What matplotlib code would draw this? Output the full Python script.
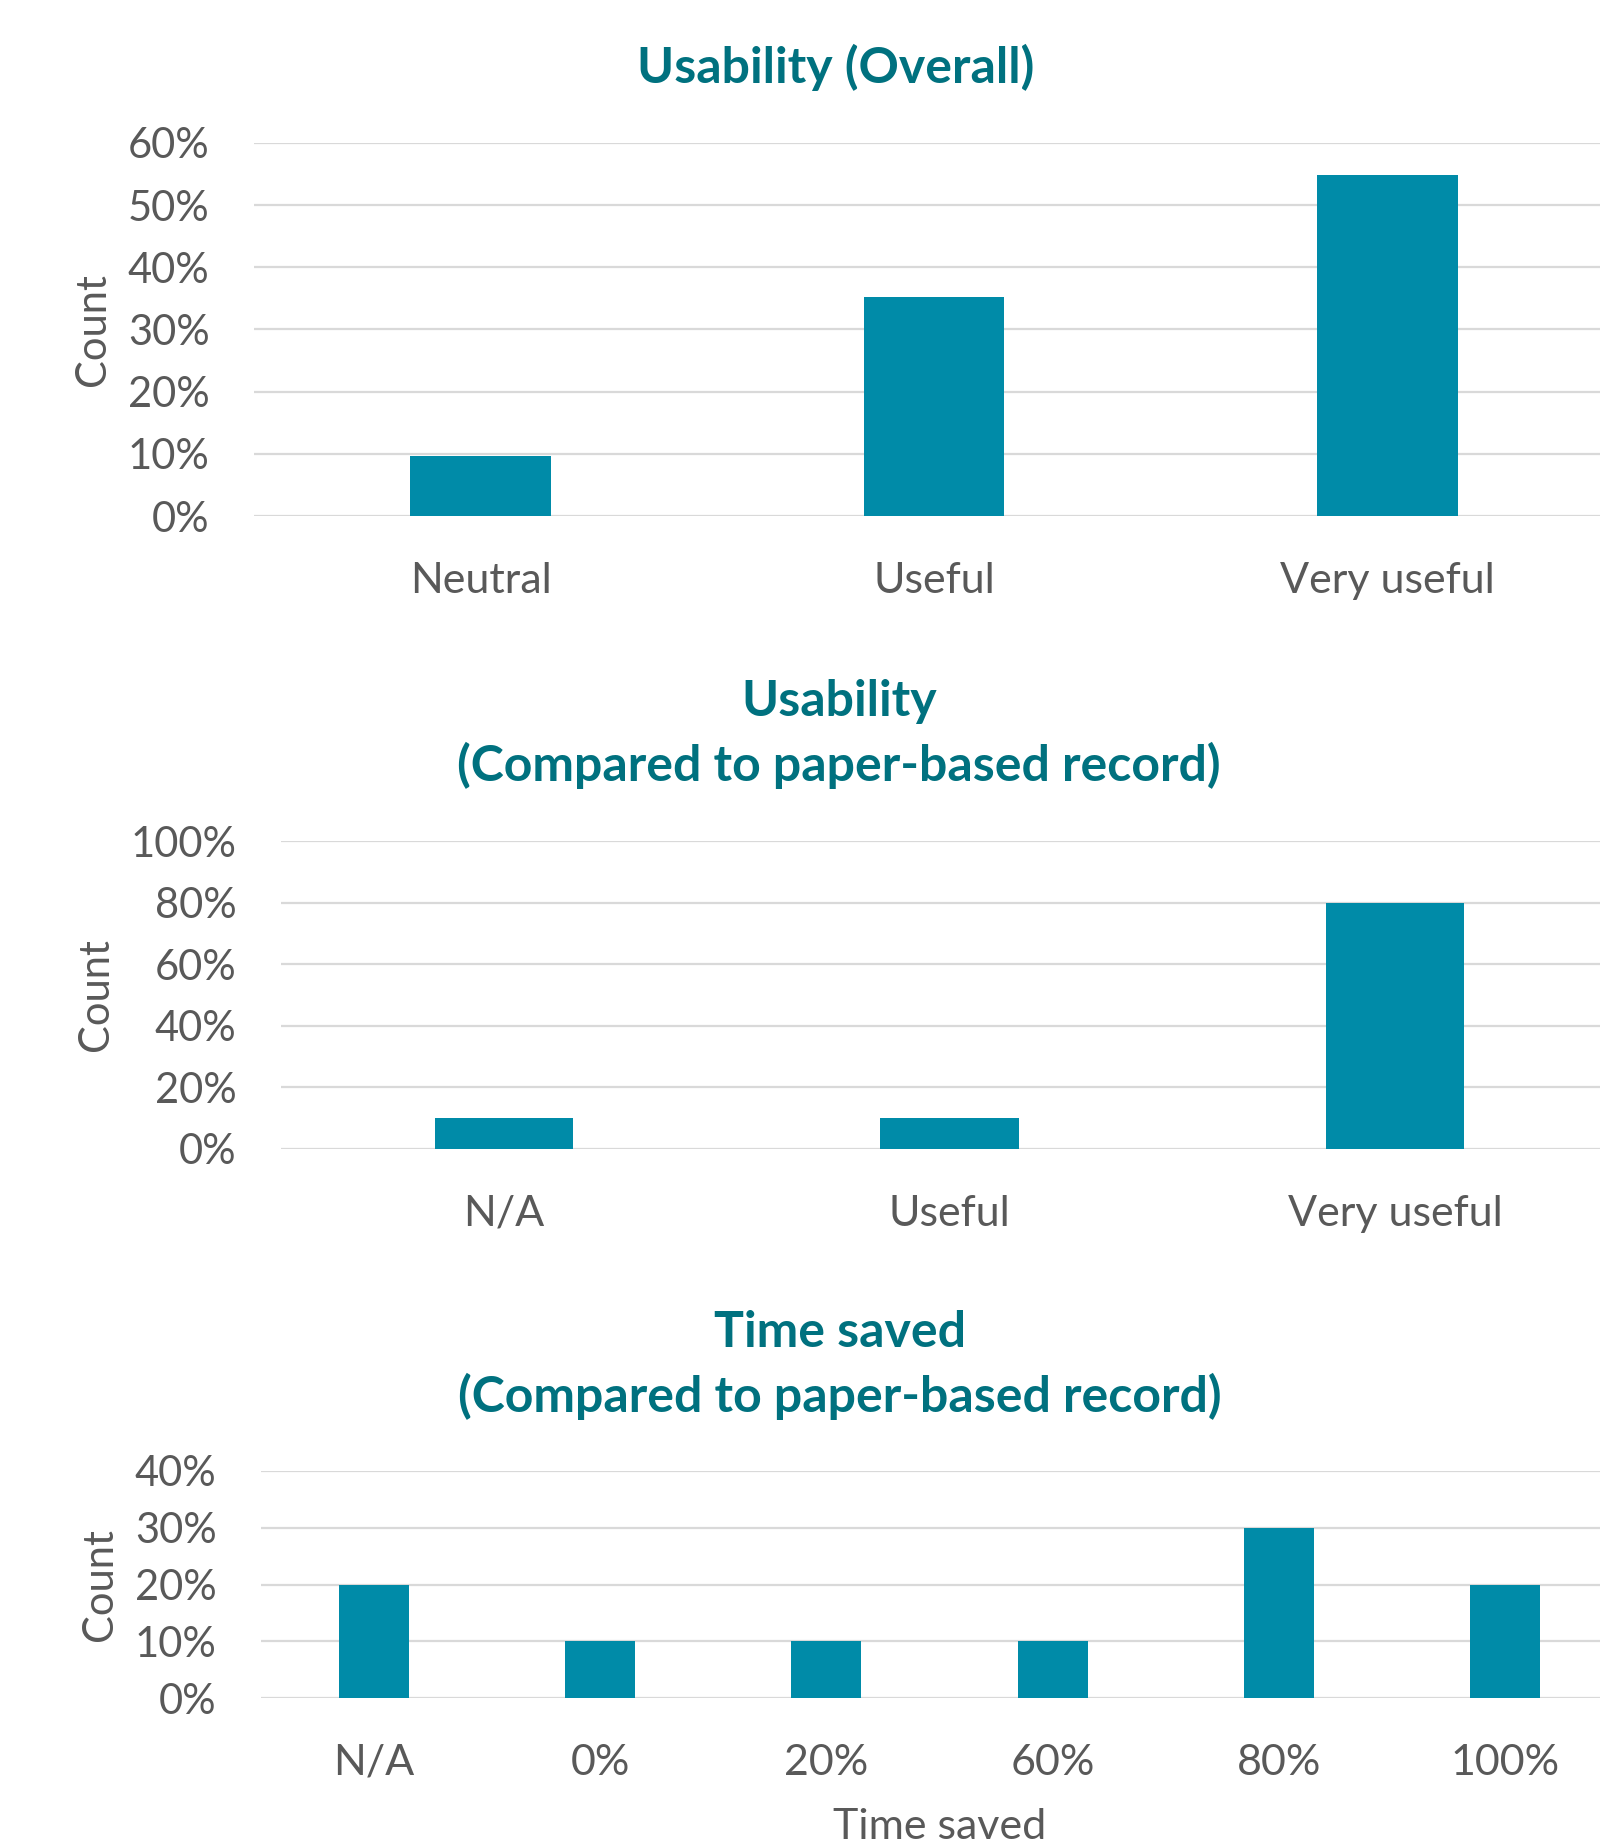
import matplotlib.pyplot as plt
from matplotlib.ticker import PercentFormatter

# survey results, share of respondents (%)
cats_overall = ['Neutral', 'Useful', 'Very useful']
vals_overall = [9.6, 35.3, 54.8]

cats_paper = ['N/A', 'Useful', 'Very useful']
vals_paper = [10, 10, 80]

cats_time = ['N/A', '0%', '20%', '60%', '80%', '100%']
vals_time = [20, 10, 10, 10, 30, 20]

bar_col = '#008BA8'
title_col = '#00717F'
txt_col = '#595959'
grid_col = '#D9D9D9'

plt.rcParams['font.family'] = ['Lato', 'DejaVu Sans']

W, H = 1600, 1843
fig = plt.figure(figsize=(W / 100, H / 100), dpi=100)


def panel(left, right, top, bottom, cats, vals, ymax, step, ylab_x):
    ax = fig.add_axes([left / W, 1 - bottom / H, (right - left) / W, (bottom - top) / H])
    x = range(len(cats))
    ax.bar(x, vals, width=0.31, color=bar_col, zorder=3)
    ax.set_xlim(-0.5, len(cats) - 0.5)
    ax.set_ylim(0, ymax)
    ax.set_yticks(range(0, ymax + 1, step))
    ax.yaxis.set_major_formatter(PercentFormatter(decimals=0))
    ax.set_xticks(list(x))
    ax.set_xticklabels(cats)
    ax.tick_params(length=0, labelsize=30, colors=txt_col)
    ax.tick_params(axis='x', labelsize=31, pad=33)
    ax.tick_params(axis='y', pad=32)
    for s in ax.spines.values():
        s.set_visible(False)
    ax.yaxis.grid(True, color=grid_col, lw=1.6, zorder=0)
    ax.set_ylabel('Count', fontsize=30, color=txt_col)
    ax.yaxis.set_label_coords((ylab_x - left) / (right - left), 0.5)
    return ax


panel(254, 1614, 143, 516, cats_overall, vals_overall, 60, 10, 112)
fig.text(836 / W, 1 - 67 / H, 'Usability (Overall)', ha='center', va='center',
         fontsize=36, fontweight='bold', color=title_col)

panel(281, 1618, 841, 1149, cats_paper, vals_paper, 100, 20, 115)
fig.text(839 / W, 1 - 734 / H, 'Usability\n(Compared to paper-based record)', ha='center',
         va='center', fontsize=36, fontweight='bold', color=title_col, linespacing=1.45)

ax3 = panel(261, 1618, 1471, 1698, cats_time, vals_time, 40, 10, 119)
ax3.set_xlabel('Time saved', fontsize=31, color=txt_col, labelpad=19)
fig.text(840 / W, 1 - 1365 / H, 'Time saved\n(Compared to paper-based record)', ha='center',
         va='center', fontsize=36, fontweight='bold', color=title_col, linespacing=1.45)

fig.savefig('out.png', dpi=100)
